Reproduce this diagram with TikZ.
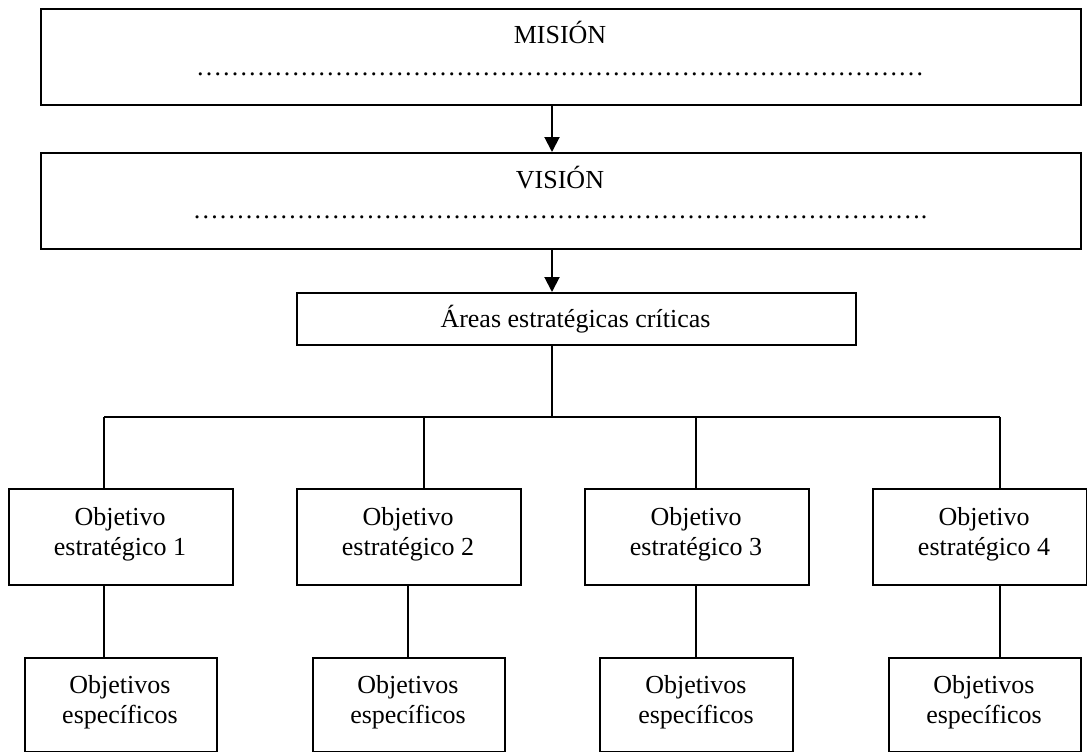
\documentclass[tikz,border=0pt]{standalone}
\usepackage{fontspec}
\setmainfont{Liberation Serif}
\usetikzlibrary{arrows.meta}
\newcommand{\ellf}{…………}
\begin{document}
\begin{tikzpicture}[x=1pt,y=-1pt,
  box/.style={draw, line width=2pt, rectangle, inner sep=0pt, anchor=north west},
  txt/.style={inner sep=0pt, anchor=base, font=\fontsize{26}{30}\selectfont},
  conn/.style={line width=2pt},
  arr/.style={line width=2pt, -{Triangle[length=15pt,width=15pt]}}]
\useasboundingbox (0,0) rectangle (1087,752);
% boxes
\node[box, minimum width=1040pt, minimum height=96pt] (mis) at (40,8) {};
\node[box, minimum width=1040pt, minimum height=96pt] (vis) at (40,152) {};
\node[box, minimum width=559pt, minimum height=52pt] (are) at (296,292) {};
\node[box, minimum width=224pt, minimum height=96pt] (o1) at (8,488) {};
\node[box, minimum width=224pt, minimum height=96pt] (o2) at (296,488) {};
\node[box, minimum width=224pt, minimum height=96pt] (o3) at (584,488) {};
\node[box, minimum width=214pt, minimum height=96pt] (o4) at (872,488) {};
\node[box, minimum width=192pt, minimum height=94pt] (s1) at (24,657) {};
\node[box, minimum width=192pt, minimum height=94pt] (s2) at (312,657) {};
\node[box, minimum width=193pt, minimum height=94pt] (s3) at (599,657) {};
\node[box, minimum width=192pt, minimum height=94pt] (s4) at (888,657) {};
% texts
\node[txt] (misT) at (560,44) {MISIÓN};
\node[txt] (misD) at (560,75) {\ellf\ellf\ellf\ellf\ellf\ellf\ellf};
\node[txt] (visT) at (560,188) {VISIÓN};
\node[txt] (visD) at (560,218) {\ellf\ellf\ellf\ellf\ellf\ellf\ellf.};
\node[txt] (areT) at (575.5,327) {Áreas estratégicas críticas};
\node[txt] (o1a) at (120,525) {Objetivo};
\node[txt] (o1b) at (120,555) {estratégico 1};
\node[txt] (o2a) at (408,525) {Objetivo};
\node[txt] (o2b) at (408,555) {estratégico 2};
\node[txt] (o3a) at (696,525) {Objetivo};
\node[txt] (o3b) at (696,555) {estratégico 3};
\node[txt] (o4a) at (984,525) {Objetivo};
\node[txt] (o4b) at (984,555) {estratégico 4};
\node[txt] (s1a) at (120,693) {Objetivos};
\node[txt] (s1b) at (120,723) {específicos};
\node[txt] (s2a) at (408,693) {Objetivos};
\node[txt] (s2b) at (408,723) {específicos};
\node[txt] (s3a) at (696,693) {Objetivos};
\node[txt] (s3b) at (696,723) {específicos};
\node[txt] (s4a) at (984,693) {Objetivos};
\node[txt] (s4b) at (984,723) {específicos};
% connector coordinates
\coordinate (ax) at (552,0);
\coordinate (bus) at (0,417);
\coordinate (b1) at (104,417);
\coordinate (b2) at (424,417);
\coordinate (b3) at (696,417);
\coordinate (b4) at (1000,417);
\coordinate (l1) at (104,0);
\coordinate (l2) at (408,0);
\coordinate (l3) at (696,0);
\coordinate (l4) at (1000,0);
% connectors
\draw[arr] (ax |- mis.south) -- (ax |- vis.north);
\draw[arr] (ax |- vis.south) -- (ax |- are.north);
\draw[conn] (ax |- are.south) -- (ax |- bus);
\draw[conn] (b1) -- (b4);
\draw[conn] (b1) -- (b1 |- o1.north);
\draw[conn] (b2) -- (b2 |- o2.north);
\draw[conn] (b3) -- (b3 |- o3.north);
\draw[conn] (b4) -- (b4 |- o4.north);
\draw[conn] (l1 |- o1.south) -- (l1 |- s1.north);
\draw[conn] (l2 |- o2.south) -- (l2 |- s2.north);
\draw[conn] (l3 |- o3.south) -- (l3 |- s3.north);
\draw[conn] (l4 |- o4.south) -- (l4 |- s4.north);
\end{tikzpicture}
\end{document}
